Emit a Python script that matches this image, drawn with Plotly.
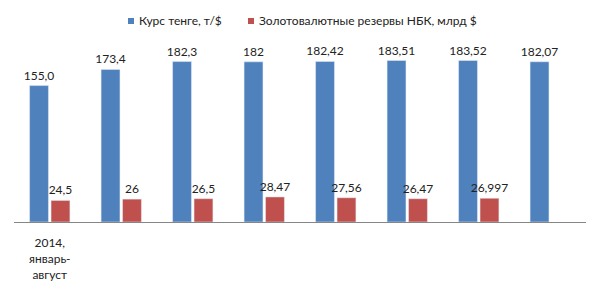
import plotly.graph_objects as go

categories = ["2014,<br>январь-<br>август", "", "", "", "", "", "", ""]
rate = [155.0, 173.4, 182.3, 182, 182.42, 183.51, 183.52, 182.07]
rate_labels = ["155,0", "173,4", "182,3", "182", "182,42", "183,51", "183,52", "182,07"]
reserves = [24.5, 26, 26.5, 28.47, 27.56, 26.47, 26.997, None]
reserves_labels = ["24,5", "26", "26,5", "28,47", "27,56", "26,47", "26,997", ""]
series_names = ["Курс тенге, т/$", "Золотовалютные резервы НБК, млрд $"]
colors = ["#4F81BD", "#C0504D"]

x = list(range(len(categories)))
font = dict(family="Lato, Open Sans, sans-serif", size=12, color="#222222")

fig = go.Figure()
fig.add_trace(go.Bar(x=x, y=rate, name=series_names[0], marker_color=colors[0],
                     text=rate_labels, textposition="outside", textfont=font,
                     constraintext="none", cliponaxis=False))
fig.add_trace(go.Bar(x=x, y=reserves, name=series_names[1], marker_color=colors[1],
                     text=reserves_labels, textposition="outside", textfont=font,
                     constraintext="none", cliponaxis=False))

W, H = 600, 288
ml, mr, mt, mb = 14, 14, 46, 66
pw = W - ml - mr
ph = H - mt - mb

def px2paper_x(px):
    return (px - ml) / pw

def px2paper_y(py):
    return (H - mb - py) / ph

# manual legend: small squares + text
legend_items = [(128, series_names[0], colors[0]), (248, series_names[1], colors[1])]
shapes = []
annotations = []
for sx, name, col in legend_items:
    shapes.append(dict(type="rect", xref="paper", yref="paper",
                       x0=px2paper_x(sx), x1=px2paper_x(sx + 6),
                       y0=px2paper_y(24), y1=px2paper_y(18),
                       fillcolor=col, line=dict(width=0)))
    annotations.append(dict(xref="paper", yref="paper", x=px2paper_x(sx + 9), y=px2paper_y(21),
                            xanchor="left", yanchor="middle", text=name, showarrow=False,
                            font=font))

fig.update_layout(
    width=W, height=H,
    margin=dict(l=ml, r=mr, t=mt, b=mb, autoexpand=False),
    paper_bgcolor="white", plot_bgcolor="white",
    barmode="group", bargap=0.40, bargroupgap=0.12,
    font=font,
    showlegend=False,
    shapes=shapes, annotations=annotations,
    xaxis=dict(tickmode="array", tickvals=x, ticktext=categories, showline=True,
               linecolor="#868686", linewidth=1, ticks="", range=[-0.5, 7.5], tickfont=font,
               ticklabelstandoff=10, automargin=False),
    yaxis=dict(range=[0, 200], visible=False),
)
fig.write_html("out.html")
